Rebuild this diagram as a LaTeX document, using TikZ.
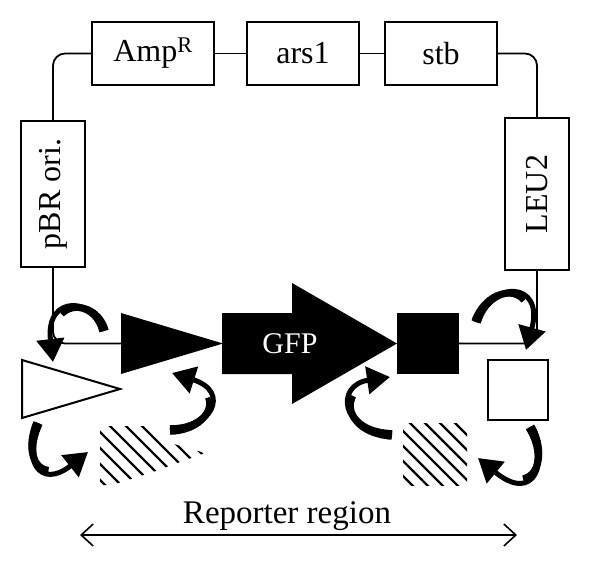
\documentclass[tikz,border=0pt]{standalone}
\usepackage{fontspec}
\setmainfont{Liberation Serif}
\usetikzlibrary{arrows.meta}
\pgfmathdeclarefunction{bz}{5}{\pgfmathparse{(1-#1)^3*#2+3*(1-#1)^2*#1*#3+3*(1-#1)*#1^2*#4+#1^3*#5}}
% curved arrow: thin body with head, then a tapered overlay near the tail
\newcommand\curvarrow[8]{%
  \draw[curv] (#1,#2) .. controls (#3,#4) and (#5,#6) .. (#7,#8);
  \foreach \i in {0,...,31}{%
    \pgfmathsetmacro\ta{\i/50}%
    \pgfmathsetmacro\tb{(\i+1.4)/50}%
    \pgfmathsetmacro\w{9.5-4.5*\i/32}%
    \draw[line width=\w pt]
      ({bz(\ta,#1,#3,#5,#7)},{bz(\ta,#2,#4,#6,#8)}) --
      ({bz(\tb,#1,#3,#5,#7)},{bz(\tb,#2,#4,#6,#8)});
  }}
\begin{document}
\begin{tikzpicture}[x=1pt,y=-1pt,
 box/.style={draw, line width=2pt, inner sep=0pt, font=\fontsize{32}{38}\selectfont},
 conn/.style={line width=1.8pt},
 curv/.style={line width=5pt, -{Triangle[length=23pt,width=27pt]}},
 hatchln/.style={line width=2.4pt},
 lbl/.style={font=\fontsize{33}{38}\selectfont}]
\useasboundingbox (0,0) rectangle (590,566);
% plasmid boxes
\node[box, minimum width=122pt, minimum height=63pt] (amp) at (153,53.5) {Amp\textsuperscript{R}};
\node[box, minimum width=112pt, minimum height=63pt] (ars) at (303,53.5) {ars1};
\node[box, minimum width=112pt, minimum height=63pt] (stb) at (441,53.5) {stb};
\node[box, minimum width=64pt, minimum height=146pt] (pbr) at (53,194) {\rotatebox{90}{pBR ori.}};
\node[box, minimum width=64pt, minimum height=152pt] (leu) at (537,194) {\rotatebox{90}{LEU2}};
% reporter elements
\coordinate (prom) at (121,343.5);
\fill (121,313) -- (223,343.5) -- (121,374) -- cycle;
\fill (222,313) -- (292,313) -- (292,283) -- (397,343.5) -- (292,404) -- (292,374) -- (222,374) -- cycle;
\node[text=white, font=\fontsize{30}{36}\selectfont, inner sep=0pt] (gfp) at (290,343.5) {GFP};
\node[fill=black, minimum width=62pt, minimum height=61pt, inner sep=0pt] (term) at (428,343.5) {};
\draw[line width=2pt, fill=white] (22,360) -- (120,389) -- (22,418) -- cycle;
\node[draw, line width=2pt, minimum size=60pt, inner sep=0pt] (wsq) at (518,390) {};
% connectors
\draw[conn] (ars.east) -- (stb.west);
\draw[conn] (amp.east) -- (ars.west);
\draw[conn, rounded corners=12pt] (amp.west) -| (pbr.north);
\draw[conn, rounded corners=12pt] (stb.east) -| (leu.north);
\draw[conn, rounded corners=12pt] (pbr.south) |- (prom);
\draw[conn, rounded corners=12pt] (leu.south) |- (term.east);
% hatches
\begin{scope}
\clip (100,426) -- (150,426) -- (160,440) -- (205,453) -- (150,473) -- (112,485) -- (100,485) -- cycle;
\foreach \c in {-380,-364,...,-250} \draw[hatchln] (\c+300,300) -- (\c+700,700);
\end{scope}
\begin{scope}
\clip (403,423) rectangle (467,485);
\foreach \c in {-73,-58,...,48} \draw[hatchln] (\c+300,300) -- (\c+700,700);
\end{scope}
% curved arrows
\curvarrow{104}{331}{96}{298}{45}{293}{53}{362}
\curvarrow{170}{430}{210}{430}{232}{392}{172}{373}
\curvarrow{38}{423}{22}{460}{40}{490}{88}{452}
\curvarrow{392}{435}{340}{432}{335}{385}{390}{377}
\curvarrow{476}{322}{490}{280}{545}{280}{526}{350}
\curvarrow{530}{427}{550}{460}{535}{505}{478}{458}
% reporter region
\node[lbl, anchor=base] (rep) at (287,523) {Reporter region};
\coordinate (ra) at (80,535);
\coordinate (rb) at (517,535);
\draw[line width=1.6pt, {Straight Barb[length=12pt,width=22pt]}-{Straight Barb[length=12pt,width=22pt]}] (ra) -- (rb);
\end{tikzpicture}
\end{document}
